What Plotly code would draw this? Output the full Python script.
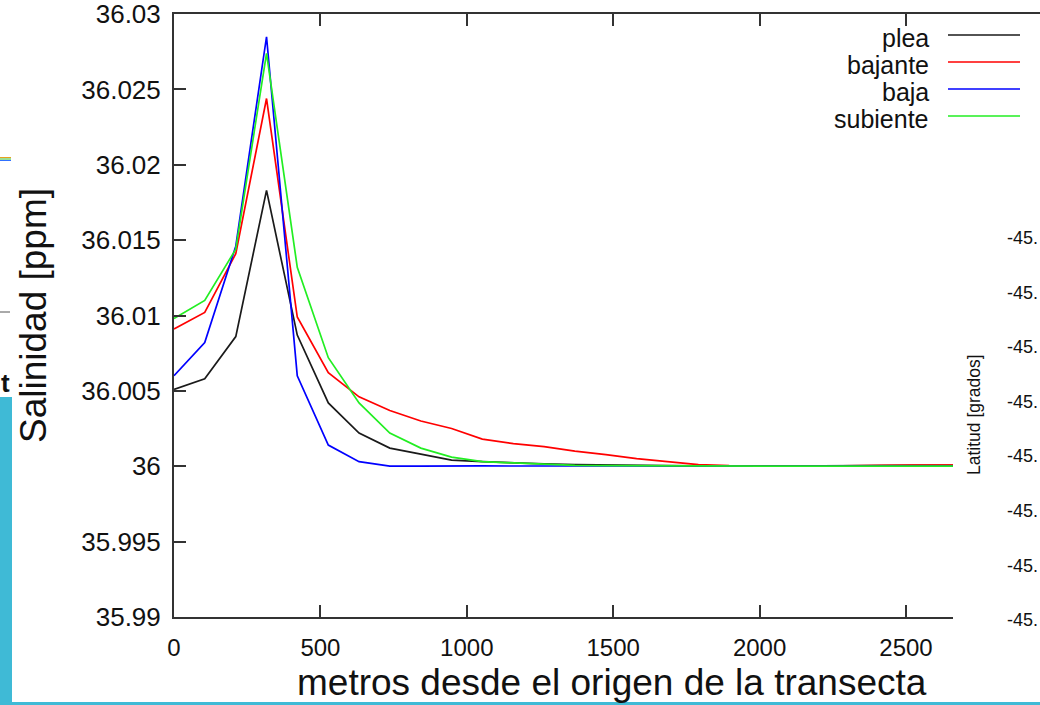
import plotly.graph_objects as go

# ---------------- data ----------------
distancia_m = [0, 105, 211, 316, 421, 527, 632, 737, 843, 948, 1053, 1159, 1264, 1369,
               1475, 1580, 1685, 1791, 1896, 2001, 2107, 2212, 2317, 2423, 2528, 2633,
               2739, 2844]

plea = [36.0051, 36.0058, 36.0086, 36.0183, 36.0087, 36.0042, 36.0022, 36.0012, 36.0008,
        36.0004, 36.0003, 36.0002, 36.00015, 36.0001, 36.00006, 36.00004, 36.00003,
        36.00002, 36.0000, 36.0000, 36.0000, 36.00002, 36.00004, 36.00005, 36.00005,
        36.00005, 36.00005, 36.00005]
bajante = [36.0091, 36.0102, 36.0141, 36.0244, 36.0099, 36.0062, 36.0046, 36.0037, 36.0030,
           36.0025, 36.0018, 36.0015, 36.0013, 36.0010, 36.00077, 36.0005, 36.0003,
           36.0001, 36.00003, 36.0000, 36.0000, 36.0000, 36.00004, 36.00005, 36.00007,
           36.00008, 36.00008, 36.00008]
baja = [36.0060, 36.0082, 36.0146, 36.0285, 36.0060, 36.0014, 36.0003, 36.0000, 36.0000,
        36.00002, 36.00002, 36.00001, 36.00001, 36.00002, 36.00003, 36.00003, 36.00003,
        36.00003, 36.00002, 36.00001, 36.0000, 36.0000, 36.00001, 36.00001, 36.00001,
        36.00001, 36.00001, 36.00001]
subiente = [36.0098, 36.0110, 36.0144, 36.0274, 36.0132, 36.0072, 36.0042, 36.0022, 36.0012,
            36.0006, 36.0003, 36.0002, 36.0001, 36.00005, 36.00003, 36.00002, 36.00001,
            36.0000, 36.0000, 36.0000, 36.0000, 36.0000, 36.0000, 36.0000, 36.0000,
            36.0000, 36.0000, 36.0000]

series_names = ["plea", "bajante", "baja", "subiente"]
series_colors = ["#1a1a1a", "#ff0000", "#0000ff", "#22ee22"]

y_tickvals = [35.99, 35.995, 36.0, 36.005, 36.01, 36.015, 36.02, 36.025, 36.03]
y_ticktext = ["35.99", "35.995", "36", "36.005", "36.01", "36.015", "36.02", "36.025", "36.03"]
x_tickvals = [0, 500, 1000, 1500, 2000, 2500]
x_ticktext = ["0", "500", "1000", "1500", "2000", "2500"]

lat_labels = ["-45.", "-45.", "-45.", "-45.", "-45.", "-45.", "-45.", "-45."]

# ---------------- layout geometry ----------------
W, H = 1040, 705
L, R, T, B = 174, 0, 14, 88
PW, PH = W - L - R, H - T - B
X_MAX = 2957.6


def px(xp):
    return (xp - L) / PW


def py(yp):
    return (H - B - yp) / PH


FONT = "Liberation Sans, Arial, sans-serif"

fig = go.Figure()
for name, vals, col in zip(series_names, [plea, bajante, baja, subiente], series_colors):
    fig.add_trace(go.Scatter(x=distancia_m, y=vals, mode="lines", name=name,
                             line=dict(color=col, width=1.7), showlegend=False))

shapes = []
annotations = []

# manual gnuplot-style key
key_y = [35, 62, 89, 116]
for name, col, yk in zip(series_names, series_colors, key_y):
    shapes.append(dict(type="line", xref="paper", yref="paper", x0=px(948), x1=px(1020),
                       y0=py(yk), y1=py(yk), line=dict(color=col, width=1.7), layer="above"))
    annotations.append(dict(text=name, xref="paper", yref="paper", x=px(931), y=py(yk + 3),
                            xanchor="right", yanchor="middle", showarrow=False,
                            font=dict(family=FONT, size=25, color="#111")))

# overlay from the neighbouring picture on the right (white panel)
shapes.append(dict(type="rect", xref="paper", yref="paper", x0=px(953), x1=px(1045),
                   y0=py(700), y1=py(130), fillcolor="white", line=dict(width=0), layer="above"))
lat_y = [238, 292.6, 347, 402, 456, 511, 566, 620]
for lab, yl in zip(lat_labels, lat_y):
    annotations.append(dict(text=lab, xref="paper", yref="paper", x=px(1005), y=py(yl),
                            xanchor="left", yanchor="middle", showarrow=False,
                            font=dict(family=FONT, size=18, color="#111")))
annotations.append(dict(text="Latitud [grados]", xref="paper", yref="paper", x=px(974), y=py(415),
                        xanchor="center", yanchor="middle", textangle=-90, showarrow=False,
                        font=dict(family=FONT, size=17.5, color="#111")))

# artefacts on the left / bottom from the surrounding slide
shapes.append(dict(type="rect", xref="paper", yref="paper", x0=px(-2), x1=px(12),
                   y0=py(706), y1=py(397), fillcolor="#3fbad6", line=dict(width=0), layer="above"))
shapes.append(dict(type="rect", xref="paper", yref="paper", x0=px(-2), x1=px(1042),
                   y0=py(706), y1=py(702), fillcolor="#3fbad6", line=dict(width=0), layer="above"))
for col, yy in zip(["#e8a020", "#30c030", "#3070ff"], [157.5, 159, 160.5]):
    shapes.append(dict(type="line", xref="paper", yref="paper", x0=px(0), x1=px(11),
                       y0=py(yy), y1=py(yy), line=dict(color=col, width=1), layer="above"))
shapes.append(dict(type="line", xref="paper", yref="paper", x0=px(0), x1=px(10),
                   y0=py(312), y1=py(312), line=dict(color="#555", width=1), layer="above"))
annotations.append(dict(text="<b>t</b>", xref="paper", yref="paper", x=px(-1), y=py(383),
                        xanchor="left", yanchor="middle", showarrow=False,
                        font=dict(family=FONT, size=26, color="#111")))

# axis titles
annotations.append(dict(text="Salinidad [ppm]", xref="paper", yref="paper", x=px(34), y=py(316),
                        xanchor="center", yanchor="middle", textangle=-90, showarrow=False,
                        font=dict(family=FONT, size=37, color="#111")))
annotations.append(dict(text="metros desde el origen de la transecta", xref="paper", yref="paper",
                        x=px(612), y=py(682), xanchor="center", yanchor="middle", showarrow=False,
                        font=dict(family=FONT, size=37, color="#111")))

fig.update_layout(
    width=W, height=H,
    margin=dict(l=L, r=R, t=T, b=B, pad=0),
    paper_bgcolor="white", plot_bgcolor="white",
    shapes=shapes, annotations=annotations,
    showlegend=False,
    xaxis=dict(range=[0, X_MAX], tickvals=x_tickvals, ticktext=x_ticktext,
               showgrid=False, zeroline=False, showline=True, linecolor="#333", linewidth=2,
               mirror="ticks", ticks="inside", ticklen=12, tickwidth=1.5, tickcolor="#333",
               tickfont=dict(family=FONT, size=24, color="#111"), ticklabelstandoff=8,
               ticklabeloverflow="allow"),
    yaxis=dict(range=[35.98999, 36.03001], tickvals=y_tickvals, ticktext=y_ticktext,
               showgrid=False, zeroline=False, showline=True, linecolor="#333", linewidth=2,
               ticks="inside", ticklen=12, tickwidth=1.5, tickcolor="#333",
               tickfont=dict(family=FONT, size=26, color="#111"), ticklabelstandoff=6,
               ticklabeloverflow="allow"),
)

fig.write_html("out.html")
